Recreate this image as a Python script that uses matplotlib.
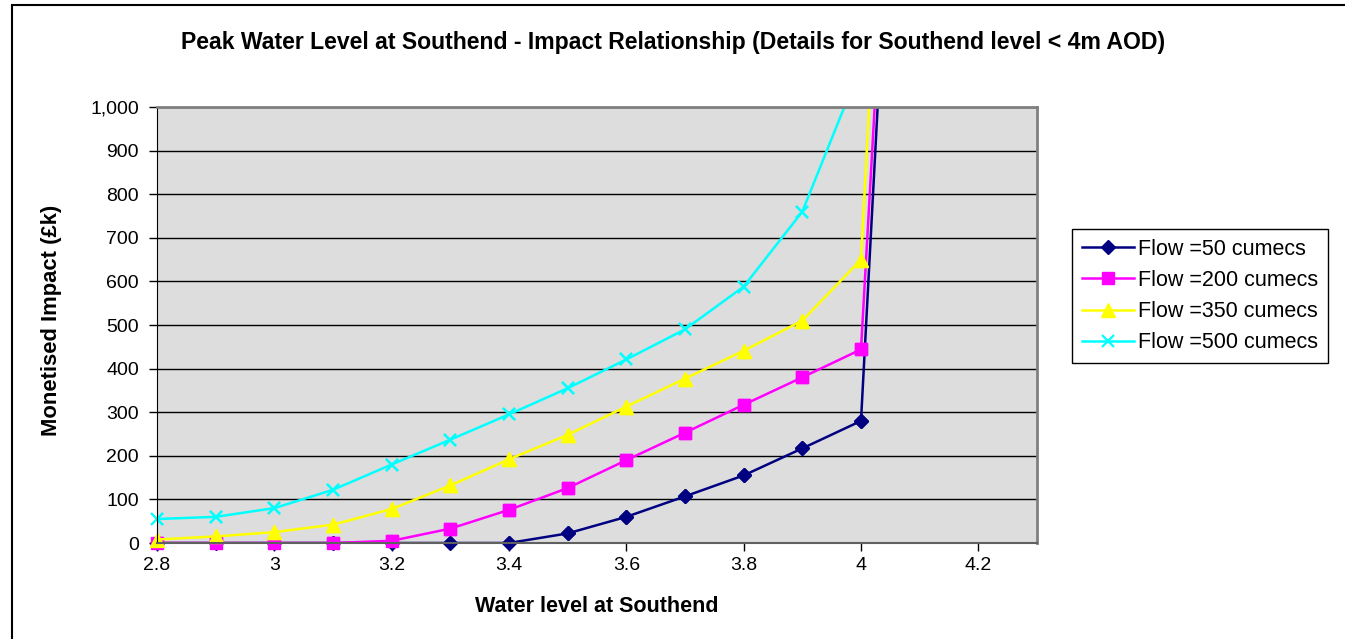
import matplotlib
matplotlib.use("Agg")
import matplotlib.pyplot as plt
from matplotlib.patches import Rectangle
from matplotlib.ticker import FuncFormatter, MultipleLocator

plt.rcParams['font.family'] = ['Liberation Sans', 'DejaVu Sans']

water_level = [2.8, 2.9, 3.0, 3.1, 3.2, 3.3, 3.4, 3.5, 3.6, 3.7, 3.8, 3.9, 4.0, 4.1]
flow_50 = [0, 0, 0, 0, 0, 0, 0, 22, 60, 107, 155, 217, 280, 2820]
flow_200 = [0, 0, 0, 0, 5, 33, 76, 126, 190, 253, 317, 380, 444, 2830]
flow_350 = [8, 15, 25, 42, 78, 132, 192, 248, 313, 377, 441, 510, 650, 3180]
flow_500 = [55, 60, 80, 122, 180, 237, 295, 355, 421, 490, 588, 760, 1095, 2500]
series_labels = ["Flow =50 cumecs", "Flow =200 cumecs", "Flow =350 cumecs", "Flow =500 cumecs"]

W, H = 1345, 639
fig = plt.figure(figsize=(W / 100, H / 100), dpi=100)
fig.patch.set_facecolor('white')

# outer chart frame
fig.patches.append(Rectangle((12 / W, -0.1), 1.2, 1 - 5 / H + 0.1, transform=fig.transFigure,
                             fill=False, edgecolor='black', linewidth=1.5))

ax = fig.add_axes([157 / W, 1 - 543 / H, (1037 - 157) / W, (543 - 107) / H])
ax.set_facecolor('#DDDDDD')

YMAX = 1000
styles = [
    dict(color='#000080', marker='D', markersize=7.5),
    dict(color='#FF00FF', marker='s', markersize=8),
    dict(color='#FFFF00', marker='^', markersize=9.5),
    dict(color='#00FFFF', marker='x', markersize=8, markeredgewidth=1.6),
]
for vals, lab, st in zip([flow_50, flow_200, flow_350, flow_500], series_labels, styles):
    ax.plot(water_level, vals, label=lab, linewidth=1.8, **st)
    xin = [x for x, v in zip(water_level, vals) if v <= YMAX]
    yin = [v for v in vals if v <= YMAX]
    ax.plot(xin, yin, linestyle='none', clip_on=False, **st)

ax.set_xlim(2.8, 4.3)
ax.set_ylim(0, YMAX)
ax.xaxis.set_major_locator(MultipleLocator(0.2))
ax.yaxis.set_major_locator(MultipleLocator(100))
ax.xaxis.set_major_formatter(FuncFormatter(lambda v, p: f"{v:g}"))
ax.yaxis.set_major_formatter(FuncFormatter(lambda v, p: f"{int(round(v)):,}"))
ax.grid(axis='y', color='black', linewidth=1)
ax.set_axisbelow(True)
ax.tick_params(axis='both', direction='out', length=6, width=1, labelsize=14, colors='black')
ax.tick_params(axis='y', pad=7)
ax.tick_params(axis='x', pad=4)

for side in ['top', 'right']:
    ax.spines[side].set_color('#808080')
    ax.spines[side].set_linewidth(2)
ax.spines['left'].set_color('black')
ax.spines['bottom'].set_color('#606060')
ax.spines['bottom'].set_linewidth(1.5)

fig.text(597 / W, 1 - 606 / H, "Water level at Southend", ha='center', va='center',
         fontsize=15.5, fontweight='bold')
fig.text(52 / W, 1 - 320 / H, "Monetised Impact (£k)", ha='center', va='center',
         rotation=90, fontsize=15.8, fontweight='bold')

fig.text(673 / W, 1 - 43 / H,
         "Peak Water Level at Southend - Impact Relationship (Details for Southend level < 4m AOD)",
         ha='center', va='center', fontsize=16.6, fontweight='bold')

handles, labels = ax.get_legend_handles_labels()
leg = fig.legend(handles, labels, loc='center', bbox_to_anchor=(1200 / W, 1 - 296 / H), fontsize=15.5,
                 frameon=True, fancybox=False, edgecolor='black', framealpha=1,
                 handlelength=2.4, borderpad=0.45, labelspacing=0.47, handletextpad=0.2,
                 borderaxespad=0)
leg.get_frame().set_linewidth(1)

fig.savefig("out.png", dpi=100)
